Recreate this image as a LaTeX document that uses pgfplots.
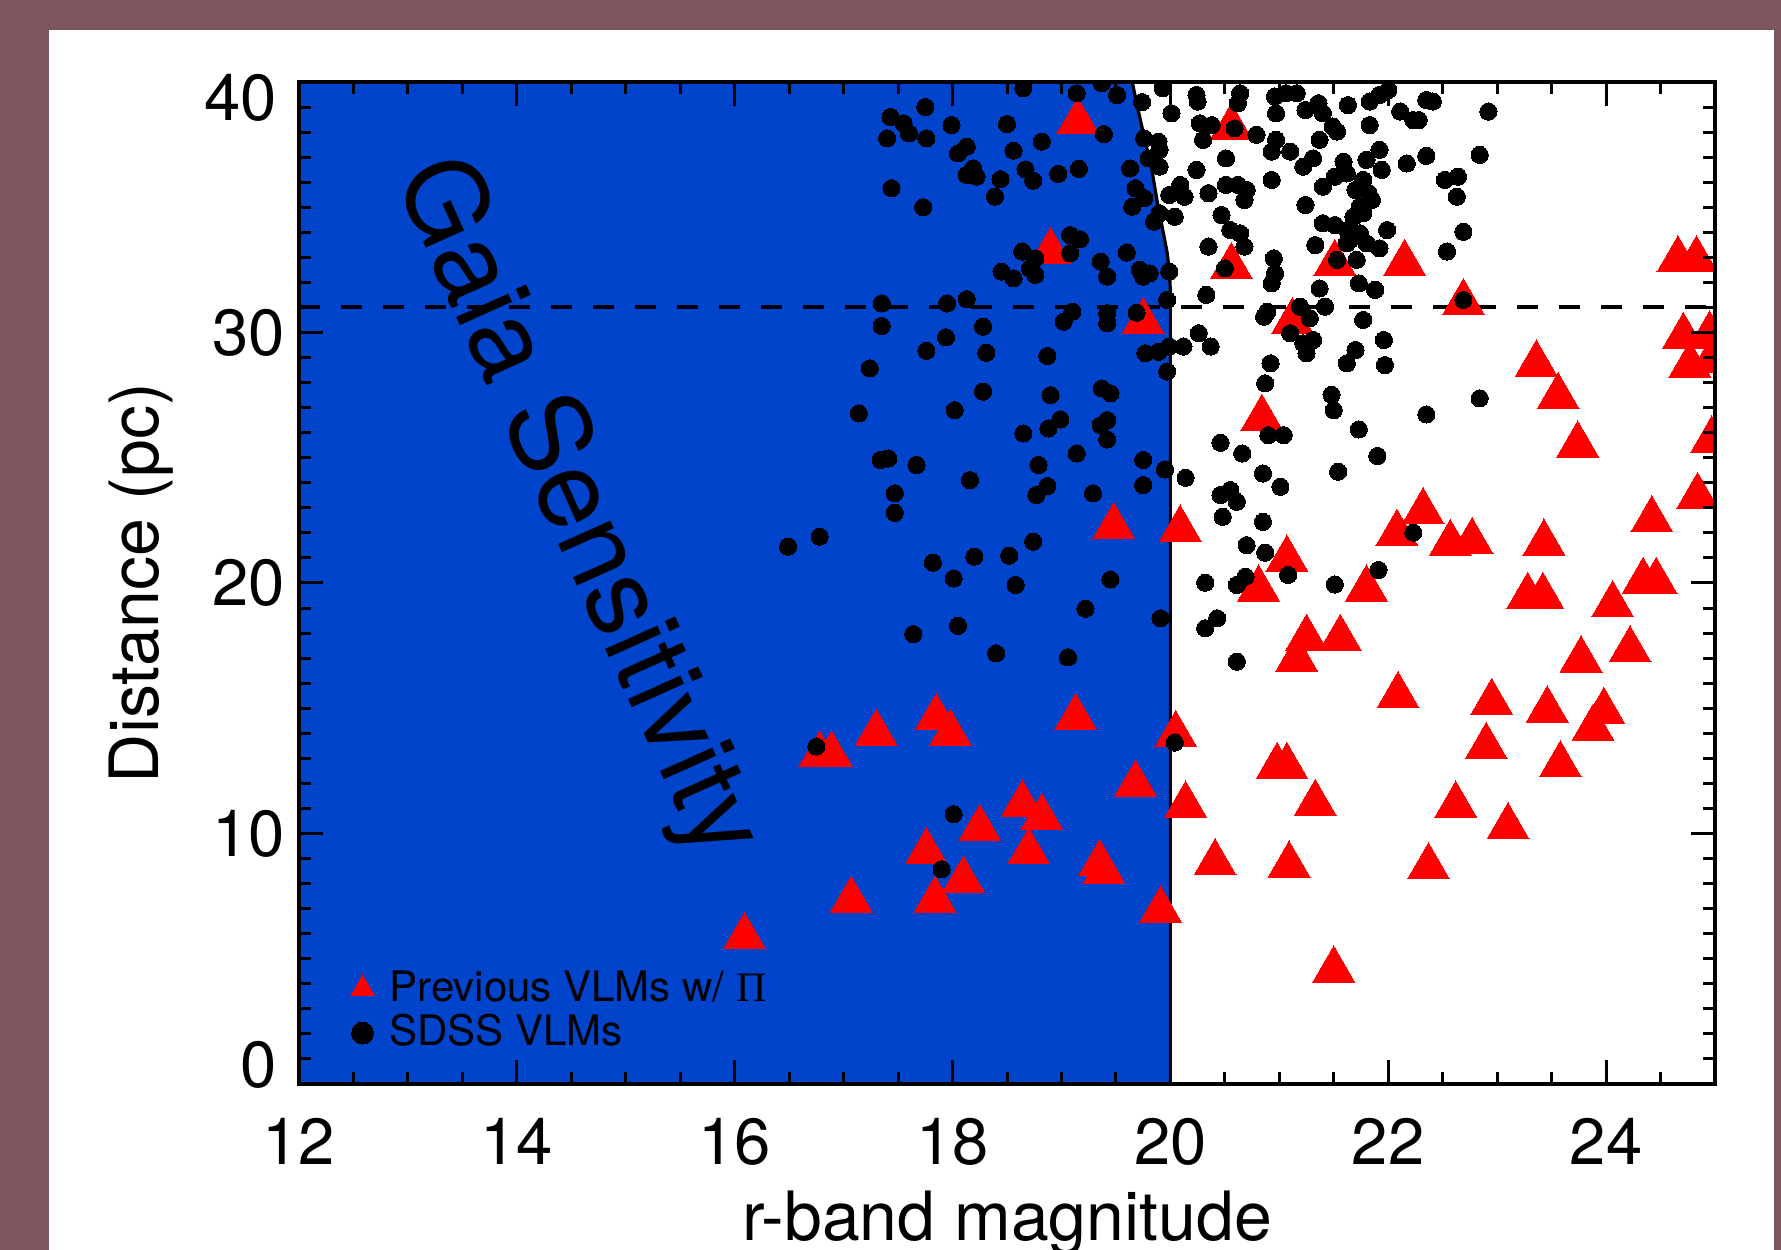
\documentclass[border=0pt]{standalone}
\usepackage{pgfplots}
\pgfplotsset{compat=1.18}
\usepackage{fontspec}
\setmainfont{TeX Gyre Heros}
\newfontfamily\seriffont{Liberation Serif}
\definecolor{gaiablue}{RGB}{0,68,204}
\definecolor{bord}{RGB}{125,85,95}
\begin{document}
\begin{tikzpicture}
\path[use as bounding box] (0pt,0pt) rectangle (445.25pt,312.5pt);
\clip (0pt,0pt) rectangle (445.25pt,312.5pt);
\fill[bord] (0pt,0pt) rectangle (445.25pt,312.5pt);
\fill[white] (12.25pt,0pt) rectangle (443.5pt,305pt);
\begin{axis}[
  at={(74.75pt,41.5pt)}, anchor=south west,
  width=354pt, height=250.5pt, scale only axis,
  xmin=12, xmax=25, ymin=0, ymax=40,
  xtick={12,14,...,24}, ytick={0,10,20,30,40},
  yticklabels={,10,20,30,},
  minor xtick={12,12.5,...,25}, minor ytick={0,1,...,40},
  major tick length=6pt, minor tick length=3pt,
  tick style={black, line width=0.75pt},
  axis line style={line width=1pt},
  axis on top,
  clip mode=individual,
  clip marker paths=true,
  /pgf/number format/assume math mode=true,
  ticklabel style={font=\fontsize{16.3}{19}\selectfont},
  xticklabel style={yshift=-5pt},
  xlabel={r-band magnitude},
  ylabel={Distance (pc)},
  label style={font=\fontsize{17}{20}\selectfont},
  xlabel style={at={(axis description cs:0.5,-0.156)}, anchor=base},
  ylabel style={at={(axis description cs:-0.099,0.5)}, anchor=base, rotate=0},
  legend style={at={(axis description cs:0.0274,0.021)}, anchor=south west,
    draw=none, fill=none, font=\fontsize{10.5}{12}\selectfont,
    nodes={inner sep=0.6pt}, row sep=0.63pt, column sep=3.15pt},
  legend cell align=left,
  legend image code/.code={\draw[#1] plot coordinates {(0pt,0pt)};},
]
% Gaia sensitivity region
\addplot[fill=gaiablue, draw=none, forget plot] coordinates {
 (12,0) (20,0) (20,31.5) (19.995,32.3) (19.97,33.2) (19.93,34.1) (19.88,35.2)
 (19.83,36.5) (19.76,37.8) (19.69,39.15) (19.65,40) (12,40)} -- cycle;
\addplot[black, line width=0.8pt, forget plot] coordinates {
 (20,0) (20,31.5) (19.995,32.3) (19.97,33.2) (19.93,34.1) (19.88,35.2)
 (19.83,36.5) (19.76,37.8) (19.69,39.15) (19.65,40)};
\addplot[black, line width=1pt, dash pattern=on 5.2pt off 5.3pt, forget plot]
 coordinates {(12,31) (25,31)};
% previous VLMs with parallax
\addplot[only marks, mark=triangle*, mark size=6.06pt, color=red,
  mark options={fill=red, draw=red, line width=0pt}, forget plot] coordinates {
(19.15,38.42) (18.90,33.23) (19.75,30.43) (20.56,38.19) (20.56,32.63)
(21.51,32.76) (22.15,32.76) (22.69,31.19) (21.12,30.43)
(19.48,22.25) (20.09,22.15) (20.84,26.57) (21.07,20.95) (20.81,19.76)
(21.80,19.76) (21.25,17.79) (21.56,17.79) (21.16,16.96) (22.08,21.98)
(22.32,22.84) (22.57,21.58) (22.77,21.65) (22.09,15.50)
(17.85,14.63) (17.98,14.00) (17.30,14.00) (16.78,13.14) (16.89,13.14)
(19.13,14.63) (20.05,13.94) (19.68,11.97) (16.09,5.88) (17.07,7.34)
(17.76,9.27) (17.84,7.34) (18.10,8.14) (18.25,10.20) (18.64,11.17)
(18.82,10.64) (18.70,9.27) (19.39,8.47) (19.35,8.80) (19.91,6.94)
(20.14,11.13)
(20.41,8.83) (21.33,11.20) (21.09,8.74) (21.50,4.55) (22.37,8.67)
(22.62,11.13) (23.10,10.27) (23.74,25.51) (24.84,23.45) (24.97,25.70)
(23.43,21.59) (23.28,19.46) (23.42,19.46) (24.06,19.13) (24.34,20.06)
(24.46,20.06) (24.42,22.52) (22.95,15.23) (22.90,13.47) (23.46,14.93)
(23.77,16.93) (24.22,17.33) (23.98,14.87) (23.88,14.20) (23.58,12.74)
(20.98,12.67) (21.07,12.67)
(24.66,32.90) (24.83,32.90) (24.71,29.84) (24.95,29.90) (24.77,28.70)
(24.97,28.90) (23.36,28.74) (23.56,27.44)
};
% SDSS VLMs
\addplot[only marks, mark=*, mark size=2.15pt, color=black,
  mark options={fill=black, line width=0pt}, forget plot] coordinates {
(18.65,39.75) (19.14,39.55) (19.37,39.95) (19.51,39.48) (17.75,39.00)
(17.43,38.60) (17.55,38.35) (17.60,37.95) (17.40,37.75) (17.76,37.75)
(17.99,38.28) (18.50,38.32) (18.13,37.42) (18.05,37.15) (18.56,37.26)
(18.82,37.62) (19.39,37.92) (18.13,36.29) (18.22,36.22) (18.19,36.55)
(18.44,36.12) (18.67,36.51) (18.74,36.06) (18.97,36.33) (19.16,36.53)
(18.39,35.42) (17.44,35.76) (17.73,35.00) (19.63,36.55) (19.68,35.76)
(19.65,35.02) (19.76,35.36) (19.85,34.42) (19.74,39.20) (19.76,37.75)
(19.80,36.95) (19.08,33.89) (19.17,33.72) (19.08,33.16) (18.64,33.23)
(18.76,32.96) (18.71,32.56) (18.76,32.30) (18.56,32.16) (18.45,32.43)
(19.36,32.83) (19.42,32.23) (19.60,33.19) (19.72,32.50) (19.81,32.36)
(19.75,32.23) (17.35,31.16) (17.35,30.26) (17.95,31.16) (18.13,31.33)
(18.28,30.23) (17.94,29.81) (17.76,29.27) (18.31,29.19) (17.24,28.57)
(18.87,29.06) (19.02,30.43) (19.10,30.83) (19.42,30.77) (19.42,30.37)
(19.69,30.79) (19.77,29.17) (19.89,29.23) (18.28,27.64) (18.90,27.50)
(19.37,27.77) (19.45,27.57)
(19.93,39.75) (20.01,38.75) (20.24,39.48) (20.25,39.22) (19.89,37.62)
(19.90,37.29) (19.90,36.62) (20.27,38.35) (20.38,38.28) (20.30,37.69)
(20.59,38.15) (20.62,39.15) (20.64,39.55) (20.79,37.89) (20.96,39.42)
(20.97,38.75) (21.06,39.55) (21.16,39.55) (20.97,37.69) (20.93,37.22)
(21.10,37.22) (21.24,38.88) (21.36,39.15) (21.40,38.75) (21.37,37.69)
(21.49,38.22) (21.53,38.02) (21.63,39.08) (21.83,39.22) (21.92,39.48)
(22.00,39.68) (21.83,38.28) (22.11,38.82) (22.23,38.48) (22.28,38.48)
(22.35,39.28) (22.41,39.22) (20.51,36.95) (20.24,36.49) (20.93,36.09)
(21.22,36.62) (21.31,36.95) (21.59,36.82) (21.80,36.89) (21.92,37.29)
(21.94,36.49) (22.17,36.75) (22.35,37.05) (22.84,37.09) (22.92,38.82)
(20.09,35.89) (19.99,35.49) (20.13,35.42) (20.35,35.56) (20.51,35.89)
(20.62,35.89) (20.70,35.69) (20.68,35.29) (21.40,35.82) (21.51,36.22)
(21.62,36.35) (21.77,36.09) (21.70,35.69) (21.82,35.56) (21.85,35.29)
(21.74,35.02) (21.68,34.62) (21.77,34.76) (21.24,35.09) (22.52,36.09)
(22.64,36.22) (22.63,35.42) (19.90,34.76) (20.04,34.62) (20.47,34.69)
(20.55,34.09) (20.64,33.96) (20.68,33.43) (20.35,33.43) (21.40,34.36)
(21.51,34.29) (21.62,34.09) (21.65,33.69) (21.74,33.96) (21.62,33.56)
(21.80,33.56) (21.92,33.36) (21.99,34.09) (21.33,33.49) (22.69,34.02)
(22.54,33.23) (20.50,32.56) (20.95,32.96) (20.96,32.36) (20.93,31.96)
(21.53,32.90) (21.71,32.90) (21.73,31.96) (21.88,31.70) (21.37,31.76)
(21.42,31.03) (20.33,31.50) (22.69,31.30) (19.99,32.43) (19.97,31.30)
(20.89,30.83) (20.86,30.63) (21.19,31.03) (21.28,30.57) (21.10,29.97)
(21.22,29.57) (21.31,29.70) (21.25,29.17) (21.77,30.50) (21.96,29.70)
(21.70,29.30) (21.62,28.77) (21.97,28.70) (20.26,29.97) (20.37,29.44)
(20.12,29.44) (19.99,29.44) (19.97,28.44) (20.92,28.77) (20.87,27.97)
(21.48,27.51) (22.84,27.37)
(17.14,26.77) (18.02,26.90) (17.34,24.91) (17.41,24.97) (17.67,24.71)
(17.47,23.58) (17.47,22.80) (18.16,24.11) (18.65,25.97) (18.88,26.17)
(18.99,26.53) (19.36,26.30) (19.42,26.50) (19.42,25.73) (18.79,24.71)
(18.87,23.87) (18.77,23.51) (19.14,25.17) (19.29,23.58) (19.75,24.91)
(19.75,23.91) (19.95,24.53) (18.74,21.65) (17.82,20.81) (18.01,20.18)
(18.20,21.05) (18.52,21.09) (18.58,19.92) (19.45,20.14) (19.22,18.97)
(19.91,18.59) (17.64,17.96) (18.05,18.29) (18.40,17.19) (19.06,17.03)
(21.50,26.90) (22.35,26.73) (21.73,26.13) (21.90,25.07) (21.54,24.44)
(20.90,25.90) (21.04,25.90) (20.46,25.60) (20.66,25.17) (20.85,24.37)
(21.01,23.84) (20.14,24.20) (20.46,23.51) (20.55,23.71) (20.61,23.24)
(20.48,22.64) (20.85,22.44) (20.70,21.51) (20.87,21.21) (21.08,20.32)
(20.69,20.25) (20.61,19.92) (20.32,20.01) (21.51,19.94) (21.91,20.52)
(22.23,22.01) (20.43,18.59) (20.32,18.19) (20.61,16.86)
(16.49,21.45) (16.78,21.85) (16.75,13.47) (20.04,13.63) (18.01,10.77)
(17.90,8.57)
};
\addlegendimage{only marks, mark=triangle*, mark size=3.46pt, color=red, mark options={fill=red, draw=red, line width=0pt}}
\addlegendentry{Previous VLMs w/ {\seriffont Π}}
\addlegendimage{only marks, mark=*, mark size=2.75pt, color=black, mark options={fill=black, line width=0pt}}
\addlegendentry{SDSS VLMs}
\node[rotate=-65.8, font=\fontsize{27.3}{30}\selectfont, inner sep=0pt] at (axis cs:14.53,22.95) {Gaia Sensitivity};
\end{axis}
\node[anchor=east, font=\fontsize{16.3}{19}\selectfont, inner sep=0pt] at (69.5pt,288pt) {40};
\node[anchor=east, font=\fontsize{16.3}{19}\selectfont, inner sep=0pt] at (69.5pt,46.25pt) {0};
\end{tikzpicture}
\end{document}
